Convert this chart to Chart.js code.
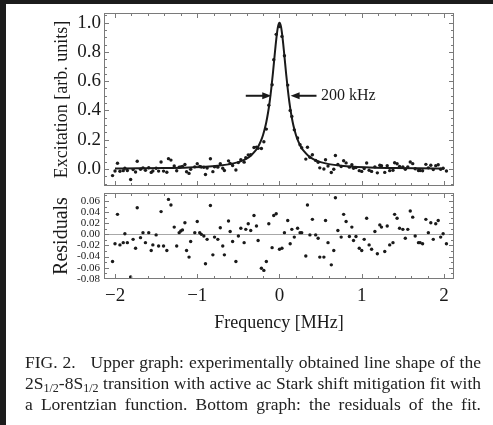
<!DOCTYPE html>
<html>
<head>
<meta charset="utf-8">
<script src="https://cdn.jsdelivr.net/npm/chart.js@4.4.0/dist/chart.umd.min.js"></script>
<style>
html, body { margin: 0; padding: 0; background: #1c1c1c; width: 493px; height: 425px; overflow: hidden; }
#page { position: absolute; left: 6px; top: 4px; width: 487px; height: 421px; background: #fff; }
canvas { position: absolute; left: 0; }
#topChart { top: 0; }
#lowChart { top: 188px; }
.cap { position: absolute; left: 25px; width: 456px; font-family: "Liberation Serif", serif; font-size: 17.5px; color: #222;
  text-align: justify; text-align-last: justify; white-space: nowrap; line-height: 20px; }
.cap sub { font-size: 12px; vertical-align: -3px; line-height: 0; }
</style>
</head>
<body>
<div id="page"></div>
<canvas id="topChart" width="493" height="190"></canvas>
<canvas id="lowChart" width="493" height="150"></canvas>
<div class="cap" style="top:352px">FIG. 2.&nbsp;&nbsp; Upper graph: experimentally obtained line shape of the</div>
<div class="cap" style="top:373px">2S<sub>1/2</sub>-8S<sub>1/2</sub> transition with active ac Stark shift mitigation fit with</div>
<div class="cap" style="top:394px">a Lorentzian function. Bottom graph: the residuals of the fit.</div>
<script>
// measured points (MHz)
const freq = [
  -2.03,-2.00,-1.97,-1.94,-1.90,-1.88,-1.85,-1.81,-1.78,-1.75,
  -1.73,-1.69,-1.66,-1.63,-1.59,-1.56,-1.54,-1.50,-1.47,-1.44,
  -1.41,-1.37,-1.35,-1.32,-1.28,-1.25,-1.22,-1.20,-1.18,-1.15,
  -1.13,-1.10,-1.08,-1.03,-1.00,-0.97,-0.95,-0.92,-0.90,-0.88,
  -0.84,-0.81,-0.79,-0.75,-0.72,-0.69,-0.67,-0.62,-0.60,-0.57,
  -0.53,-0.50,-0.47,-0.43,-0.41,-0.38,-0.35,-0.31,-0.28,-0.26,
  -0.22,-0.19,-0.16,-0.13,-0.09,-0.07,-0.04,0.00,0.03,0.06,
  0.10,0.13,0.15,0.18,0.22,0.25,0.27,0.32,0.34,0.37,
  0.40,0.44,0.47,0.49,0.54,0.56,0.59,0.63,0.66,0.68,
  0.71,0.75,0.78,0.81,0.85,0.88,0.90,0.93,0.97,1.00,
  1.03,1.06,1.09,1.12,1.16,1.19,1.22,1.24,1.28,1.31,
  1.34,1.38,1.40,1.43,1.46,1.50,1.53,1.56,1.59,1.62,
  1.65,1.69,1.71,1.74,1.78,1.81,1.84,1.87,1.90,1.93,
  1.96,1.99,2.03
];
const excitation = [
  -0.046,-0.014,0.039,-0.016,-0.012,0.004,-0.011,-0.073,-0.005,-0.021,
  0.052,-0.002,0.007,-0.010,0.008,-0.024,-0.014,0.004,-0.015,0.047,
  -0.015,-0.023,0.070,0.060,0.020,-0.013,0.011,0.014,0.017,0.030,
  -0.020,-0.031,-0.003,0.014,0.035,0.016,0.013,0.011,-0.038,0.006,
  0.069,-0.019,0.014,0.012,0.035,0.004,-0.011,0.055,0.038,0.023,
  -0.008,0.043,0.063,0.046,0.076,0.096,0.097,0.146,0.149,0.141,
  0.139,0.186,0.272,0.436,0.575,0.746,0.920,0.973,0.906,0.774,
  0.573,0.400,0.359,0.267,0.211,0.165,0.145,0.067,0.148,0.080,
  0.097,0.058,0.045,0.007,-0.001,0.062,0.019,-0.025,-0.002,0.092,
  0.030,0.016,0.056,0.041,0.012,0.028,0.004,0.010,-0.012,-0.017,
  0.002,0.040,-0.009,-0.017,0.014,-0.027,0.025,0.021,-0.024,0.022,
  -0.012,-0.009,0.042,0.035,0.017,0.014,-0.002,0.014,0.047,0.036,
  0.001,-0.011,-0.011,-0.013,0.031,0.007,0.025,-0.005,0.022,0.028,
  -0.002,0.004,-0.014
];
const residuals = [
  -0.049,-0.017,0.036,-0.019,-0.015,0.001,-0.015,-0.077,-0.009,-0.025,
  0.048,-0.006,0.003,-0.015,0.003,-0.029,-0.019,-0.001,-0.021,0.041,
  -0.021,-0.029,0.063,0.053,0.013,-0.021,0.003,0.006,0.008,0.021,
  -0.029,-0.041,-0.013,0.003,0.023,0.003,0.000,-0.003,-0.053,-0.009,
  0.052,-0.037,-0.005,-0.009,0.012,-0.021,-0.037,0.024,0.005,-0.013,
  -0.049,-0.003,0.011,-0.015,0.009,0.019,0.007,0.034,0.015,-0.011,
  -0.061,-0.065,-0.049,0.019,-0.024,0.034,0.037,-0.027,-0.025,0.003,
  0.025,-0.017,0.009,-0.005,0.011,0.003,0.003,-0.039,0.053,-0.001,
  0.027,-0.001,-0.007,-0.041,-0.041,0.025,-0.015,-0.055,-0.029,0.066,
  0.007,-0.005,0.036,0.023,-0.004,0.013,-0.011,-0.004,-0.025,-0.029,
  -0.009,0.029,-0.019,-0.027,0.005,-0.035,0.017,0.013,-0.031,0.015,
  -0.019,-0.015,0.036,0.029,0.011,0.009,-0.007,0.009,0.042,0.031,
  -0.003,-0.015,-0.015,-0.017,0.027,0.003,0.021,-0.009,0.019,0.025,
  -0.005,0.001,-0.017
];
// Lorentzian fit curve
const fitFreq = [
  -2.0,-1.7,-1.4,-1.1,-0.9,-0.75,-0.6,-0.5,-0.45,-0.4,-0.35,-0.3,-0.26,-0.23,-0.2,-0.18,-0.16,-0.14,-0.12,-0.1,-0.08,-0.06,-0.04,-0.02,
  0,
  0.02,0.04,0.06,0.08,0.1,0.12,0.14,0.16,0.18,0.2,0.23,0.26,0.3,0.35,0.4,0.45,0.5,0.6,0.75,0.9,1.1,1.4,1.7,2.0
];
const fitExc = [
  0.003,0.0042,0.0061,0.0099,0.0147,0.0211,0.0325,0.0462,0.0564,0.0703,0.0899,0.119,0.152,0.186,0.232,0.272,0.321,0.382,0.457,0.548,0.654,0.771,0.883,0.968,
  1.0,
  0.968,0.883,0.771,0.654,0.548,0.457,0.382,0.321,0.272,0.232,0.186,0.152,0.119,0.0899,0.0703,0.0564,0.0462,0.0325,0.0211,0.0147,0.0099,0.0061,0.0042,0.003
];
const xTicks = [-2, -1, 0, 1, 2];
const yTicksTop = [0, 0.2, 0.4, 0.6, 0.8, 1.0];
const yTicksLow = [0.06, 0.04, 0.02, 0.00, -0.02, -0.04, -0.06, -0.08];

const SERIF = '"Liberation Serif", "Times New Roman", serif';
const INK = '#1a1a1a';
const FRAME = '#7a7a7a';

// Mathematica-style frame with inward ticks
function framePlugin(yMinorStep, yMajorEvery, yFrom, yTo) {
    return {
        id: 'frame',
        afterDatasetsDraw(chart) {
            const {ctx, chartArea: a, scales: {x, y}} = chart;
            ctx.save();
            ctx.strokeStyle = FRAME;
            ctx.lineWidth = 1;
            ctx.strokeRect(Math.round(a.left) + 0.5, Math.round(a.top) + 0.5, Math.round(a.right - a.left) - 1, Math.round(a.bottom - a.top) - 1);
            ctx.beginPath();
            for (let i = -10; i <= 10; i++) {
                const px = Math.round(x.getPixelForValue(i / 5)) + 0.5;
                const len = i % 5 === 0 ? 5 : 3;
                ctx.moveTo(px, a.bottom); ctx.lineTo(px, a.bottom - len);
                ctx.moveTo(px, a.top); ctx.lineTo(px, a.top + len);
            }
            for (let i = yFrom; i <= yTo; i++) {
                const py = Math.round(y.getPixelForValue(i * yMinorStep)) + 0.5;
                if (py < a.top || py > a.bottom) continue;
                const len = i % yMajorEvery === 0 ? 5 : 3;
                ctx.moveTo(a.left, py); ctx.lineTo(a.left + len, py);
                ctx.moveTo(a.right, py); ctx.lineTo(a.right - len, py);
            }
            ctx.stroke();
            ctx.restore();
        }
    };
}

function arrow(ctx, x0, x1, y) {
    const dir = Math.sign(x1 - x0);
    ctx.beginPath();
    ctx.moveTo(x0, y); ctx.lineTo(x1 - dir * 6, y);
    ctx.stroke();
    ctx.beginPath();
    ctx.moveTo(x1, y);
    ctx.lineTo(x1 - dir * 9, y - 3.5);
    ctx.lineTo(x1 - dir * 9, y + 3.5);
    ctx.closePath();
    ctx.fill();
}

const widthMarker = {
    id: 'widthMarker',
    afterDatasetsDraw(chart) {
        const {ctx, scales: {x, y}} = chart;
        const py = y.getPixelForValue(0.5);
        ctx.save();
        ctx.strokeStyle = INK; ctx.fillStyle = INK; ctx.lineWidth = 2;
        arrow(ctx, x.getPixelForValue(-0.41), x.getPixelForValue(-0.1), py);
        arrow(ctx, x.getPixelForValue(0.45), x.getPixelForValue(0.135), py);
        ctx.font = '16px ' + SERIF;
        ctx.textBaseline = 'middle';
        ctx.fillText('200 kHz', x.getPixelForValue(0.505), py);
        ctx.restore();
    }
};

const zeroLine = {
    id: 'zeroLine',
    beforeDatasetsDraw(chart) {
        const {ctx, chartArea: a, scales: {y}} = chart;
        const py = Math.round(y.getPixelForValue(0)) + 0.5;
        ctx.save();
        ctx.strokeStyle = '#a8a8a8'; ctx.lineWidth = 1;
        ctx.beginPath(); ctx.moveTo(a.left, py); ctx.lineTo(a.right, py); ctx.stroke();
        ctx.restore();
    }
};

function fixWidth(w) {
    return s => { s.width = w; s.paddingTop = 0; s.paddingBottom = 0; };
}
function fixHeight(h) {
    return s => { s.height = h; s.paddingLeft = 0; s.paddingRight = 0; };
}

Chart.defaults.animation = false;
Chart.defaults.responsive = false;
Chart.defaults.color = INK;

new Chart(document.getElementById('topChart'), {
    type: 'scatter',
    data: {
        datasets: [
            { data: fitFreq.map((f, i) => ({x: f, y: fitExc[i]})), showLine: true, borderColor: INK, borderWidth: 2,
              pointRadius: 0, cubicInterpolationMode: 'monotone' },
            { data: freq.map((f, i) => ({x: f, y: excitation[i]})), pointRadius: 1.7, pointBackgroundColor: INK, pointBorderWidth: 0 }
        ]
    },
    options: {
        layout: { padding: { left: 0, right: 39, top: 13, bottom: 2 } },
        plugins: { legend: { display: false }, tooltip: { enabled: false } },
        scales: {
            x: { type: 'linear', min: -2.134, max: 2.122, display: false },
            y: {
                type: 'linear', min: -0.117, max: 1.066,
                grid: { display: false, drawTicks: false }, border: { display: false },
                afterBuildTicks: s => { s.ticks = yTicksTop.map(v => ({value: v})); },
                afterFit: fixWidth(104),
                ticks: { padding: 3, font: { family: SERIF, size: 19 }, callback: v => v.toFixed(1) },
                title: { display: true, text: 'Excitation [arb. units]', font: { family: SERIF, size: 18 }, padding: { top: 51, bottom: 0 } }
            }
        }
    },
    plugins: [framePlugin(0.05, 4, -2, 21), widthMarker]
});

new Chart(document.getElementById('lowChart'), {
    type: 'scatter',
    data: {
        datasets: [
            { data: freq.map((f, i) => ({x: f, y: residuals[i]})), pointRadius: 1.7, pointBackgroundColor: INK, pointBorderWidth: 0 }
        ]
    },
    options: {
        layout: { padding: { left: 0, right: 39, top: 5, bottom: 0 } },
        plugins: { legend: { display: false }, tooltip: { enabled: false } },
        scales: {
            x: {
                type: 'linear', min: -2.134, max: 2.122,
                grid: { display: false, drawTicks: false }, border: { display: false },
                afterBuildTicks: s => { s.ticks = xTicks.map(v => ({value: v})); },
                afterFit: fixHeight(59),
                ticks: { padding: 6, maxRotation: 0, font: { family: SERIF, size: 19 }, callback: v => (v < 0 ? '\u2212' + (-v) : String(v)) },
                title: { display: true, text: 'Frequency [MHz]', font: { family: SERIF, size: 18 }, padding: { top: 0, bottom: 4 } }
            },
            y: {
                type: 'linear', min: -0.0805, max: 0.0745,
                grid: { display: false, drawTicks: false }, border: { display: false },
                afterBuildTicks: s => { s.ticks = yTicksLow.map(v => ({value: v})); },
                afterFit: fixWidth(104),
                ticks: { padding: 4, autoSkip: false, font: { family: SERIF, size: 11 }, callback: v => v.toFixed(2) },
                title: { display: true, text: 'Residuals', font: { family: SERIF, size: 20 }, padding: { top: 50, bottom: 0 } }
            }
        }
    },
    plugins: [zeroLine, framePlugin(0.01, 2, -8, 7)]
});
</script>
</body>
</html>
